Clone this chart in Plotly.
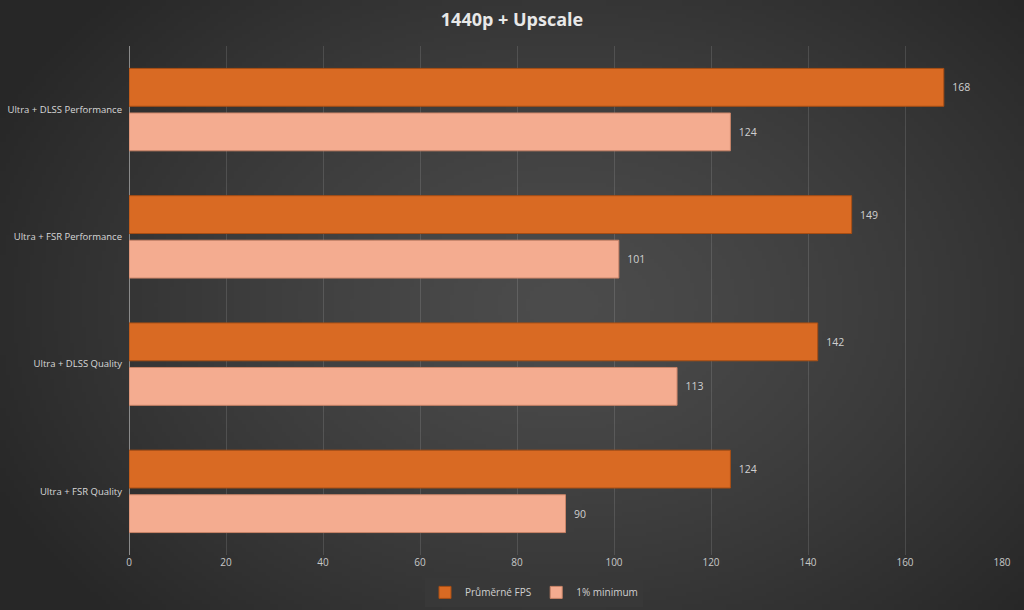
import base64
import struct
import zlib

import numpy as np
import plotly.graph_objects as go

kategorie = ["Ultra + DLSS Performance", "Ultra + FSR Performance",
             "Ultra + DLSS Quality", "Ultra + FSR Quality"]
prumerne_fps = [168, 149, 142, 124]
minimum_1 = [124, 101, 113, 90]
osa_x_ticks = [0, 20, 40, 60, 80, 100, 120, 140, 160, 180]

W, H = 1024, 610
L, R, T, B = 129, 22, 46, 55


def radial_bg(w=256, h=152):
    # tmave pozadi s radialnim prechodem (svetlejsi stred)
    yy, xx = np.mgrid[0:h, 0:w]
    dx = (xx / (w - 1) - 0.55) / 0.62
    dy = (yy / (h - 1) - 0.5) / 0.75
    d = np.clip(np.sqrt(dx ** 2 + dy ** 2), 0, 1)
    g = (0x4c - (0x4c - 0x27) * d ** 1.3).astype(np.uint8)
    raw = b"".join(b"\x00" + g[i].tobytes() for i in range(h))

    def chunk(tag, data):
        c = struct.pack(">I", len(data)) + tag + data
        return c + struct.pack(">I", zlib.crc32(tag + data) & 0xffffffff)

    png = b"\x89PNG\r\n\x1a\n" + chunk(b"IHDR", struct.pack(">IIBBBBB", w, h, 8, 0, 0, 0, 0))
    png += chunk(b"IDAT", zlib.compress(raw, 9)) + chunk(b"IEND", b"")
    return "data:image/png;base64," + base64.b64encode(png).decode()


pw, ph = W - L - R, H - T - B

fig = go.Figure()
fig.add_trace(go.Bar(
    y=kategorie, x=prumerne_fps, name="Průměrné FPS", orientation="h",
    marker=dict(color="#D96A23", line=dict(color="#A84E14", width=1)),
    text=prumerne_fps, texttemplate="\u00a0\u00a0%{x}", textposition="outside",
    textfont=dict(color="#D0D0D0", size=10.5), cliponaxis=False,
))
fig.add_trace(go.Bar(
    y=kategorie, x=minimum_1, name="1% minimum", orientation="h",
    marker=dict(color="#F4AC90", line=dict(color="#C98468", width=1)),
    text=minimum_1, texttemplate="\u00a0\u00a0%{x}", textposition="outside",
    textfont=dict(color="#D0D0D0", size=10.5), cliponaxis=False,
))

fig.update_layout(
    width=W, height=H,
    paper_bgcolor="#383838", plot_bgcolor="rgba(0,0,0,0)",
    font=dict(family="Open Sans, Noto Sans, sans-serif", color="#D0D0D0"),
    title=dict(text="<b>1440p + Upscale</b>", x=0.5, xanchor="center", y=0.967, yanchor="middle",
               font=dict(size=18, color="#E8E8E8")),
    margin=dict(l=L, r=R, t=T, b=B, autoexpand=False),
    barmode="group", bargap=0.3, bargroupgap=0.15,
    showlegend=True,
    legend=dict(orientation="h", x=(425 - L) / pw, xanchor="left", y=-0.045, yanchor="top",
                font=dict(size=10, color="#D0D0D0"), itemwidth=30, tracegroupgap=0),
    xaxis=dict(range=[0, 180], tickvals=osa_x_ticks, showgrid=True,
               gridcolor="rgba(255,255,255,0.12)", gridwidth=1,
               zeroline=True, zerolinecolor="#8a8a8a", zerolinewidth=1,
               tickfont=dict(size=10, color="#C8C8C8"), showline=False, ticks="",
               automargin=False),
    yaxis=dict(autorange="reversed", showgrid=False, zeroline=False, ticks="",
               tickfont=dict(size=9.5, color="#D8D8D8"), ticklabelstandoff=6,
               automargin=False),
    images=[dict(source=radial_bg(), xref="paper", yref="paper",
                 x=-L / pw, y=1 + T / ph, sizex=W / pw, sizey=H / ph,
                 sizing="stretch", xanchor="left", yanchor="top", layer="below")],
)

fig.write_html("out.html", config={"displayModeBar": False},
               post_script="document.body.style.margin='0';document.body.style.overflow='hidden';")
